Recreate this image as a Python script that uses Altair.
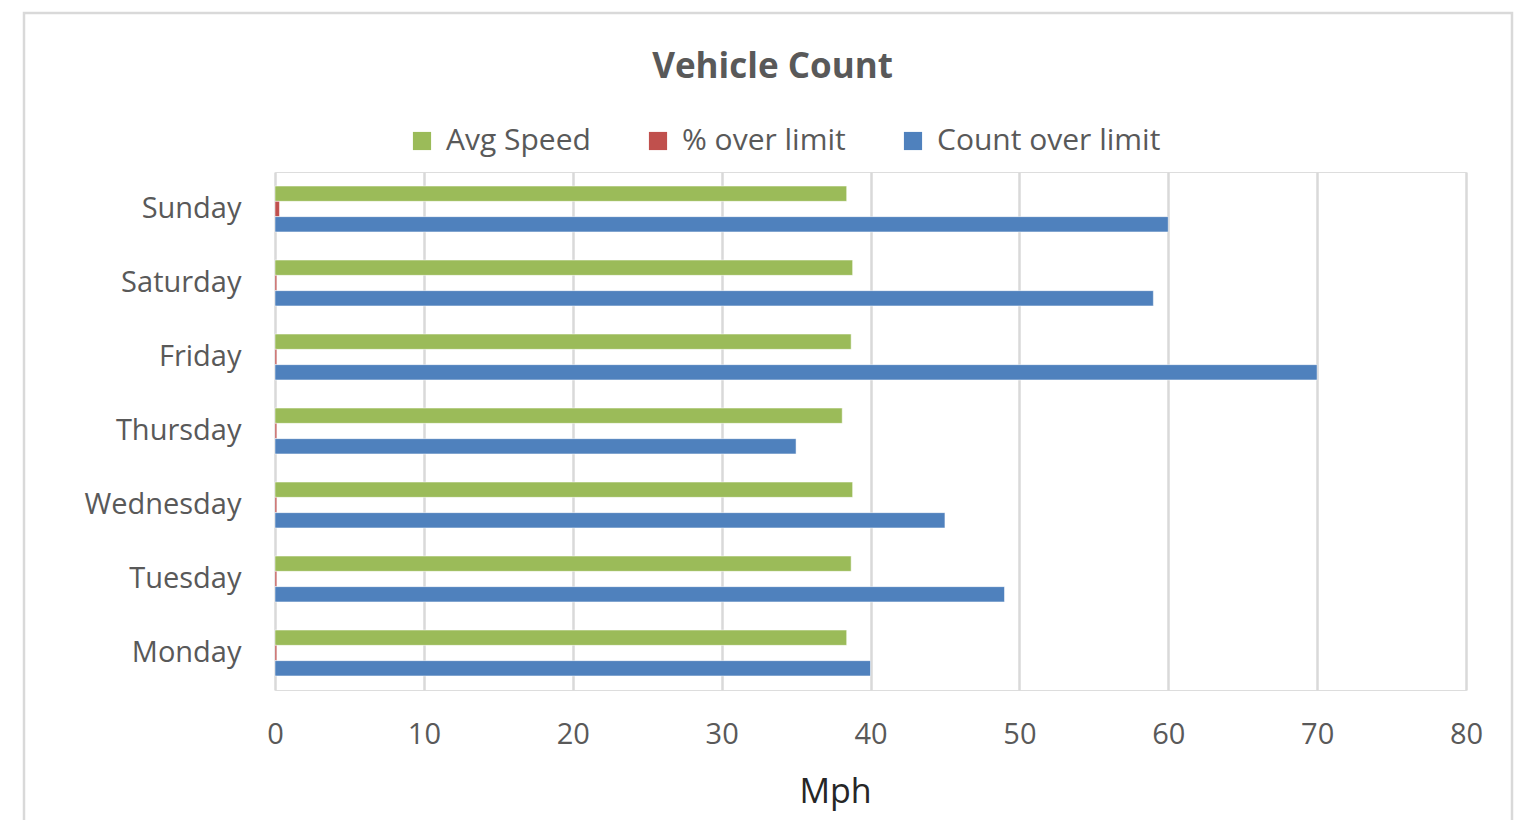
import altair as alt
import pandas as pd

days = ["Monday", "Tuesday", "Wednesday", "Thursday", "Friday", "Saturday", "Sunday"]
avg_speed = [38.4, 38.7, 38.8, 38.1, 38.7, 38.8, 38.4]
pct_over = [0.12, 0.12, 0.12, 0.12, 0.12, 0.12, 0.3]
count_over = [40, 49, 45, 35, 70, 59, 60]
series = ["Avg Speed", "% over limit", "Count over limit"]
colors = ["#9BBB59", "#C0504D", "#4F81BD"]
x_ticks = [0, 10, 20, 30, 40, 50, 60, 70, 80]

rows = []
for i, d in enumerate(days):
    rows.append({"Day": d, "Series": series[0], "Value": avg_speed[i]})
    rows.append({"Day": d, "Series": series[1], "Value": pct_over[i]})
    rows.append({"Day": d, "Series": series[2], "Value": count_over[i]})
df = pd.DataFrame(rows)

FONT = "Open Sans"
GRAY = "#595959"

W, H = 1191, 518
PAD_L, PAD_T = 267, 164
PAD_R = 1506 - W - PAD_L
PAD_B = 812 - H - PAD_T

frame = alt.Chart(pd.DataFrame({"a": [0]})).mark_rect(
    fill=None, stroke="#d9d9d9", strokeWidth=2.5, clip=False
).encode(
    x=alt.value(24 - 8 - PAD_L),
    x2=alt.value(1512 - 8 - PAD_L),
    y=alt.value(13 - 8 - PAD_T),
    y2=alt.value(840 - 8 - PAD_T),
)

bars = alt.Chart(df).mark_bar(stroke="white", strokeWidth=0.5).encode(
    y=alt.Y(
        "Day:N",
        sort=list(reversed(days)),
        scale=alt.Scale(paddingInner=0.38, paddingOuter=0.19),
        axis=alt.Axis(
            title=None, ticks=False, domain=False, labelFontSize=29,
            labelColor=GRAY, labelFont=FONT, labelPadding=34,
        ),
    ),
    yOffset=alt.YOffset("Series:N", sort=series, scale=alt.Scale(paddingInner=0, paddingOuter=0)),
    x=alt.X(
        "Value:Q",
        scale=alt.Scale(domain=[0, 80], nice=False),
        axis=alt.Axis(
            values=x_ticks, title="Mph", ticks=False, domain=False, labelFlush=False,
            labelFontSize=29, labelColor=GRAY, labelFont=FONT, labelPadding=30,
            titleFontSize=34, titleFont=FONT, titleColor="#262626", titleFontWeight="normal",
            titleX=560, titleY=112, titleBaseline="alphabetic",
            grid=True, gridColor="#d9d9d9", gridWidth=2.5,
        ),
    ),
    color=alt.Color(
        "Series:N",
        sort=series,
        scale=alt.Scale(domain=series, range=colors),
        legend=alt.Legend(
            title=None, orient="none", direction="horizontal",
            legendX=132, legendY=-46,
            symbolType="square", symbolSize=330, symbolStrokeWidth=0,
            labelFontSize=30, labelFont=FONT, labelColor=GRAY, labelLimit=500,
            columnPadding=52, labelOffset=9,
        ),
    ),
)

chart = alt.layer(frame, bars).properties(
    width=W,
    height=H,
    autosize=alt.AutoSizeParams(type="none"),
    padding={"left": PAD_L, "top": PAD_T, "right": PAD_R, "bottom": PAD_B},
    title=alt.TitleParams(
        "Vehicle Count", fontSize=35, font=FONT, fontWeight="bold", color=GRAY,
        anchor="middle", dx=-98, offset=-73, frame="group",
    ),
).configure_view(stroke=None).configure(background="white")

chart.save("out.html", embed_options={"renderer": "svg", "actions": False})
